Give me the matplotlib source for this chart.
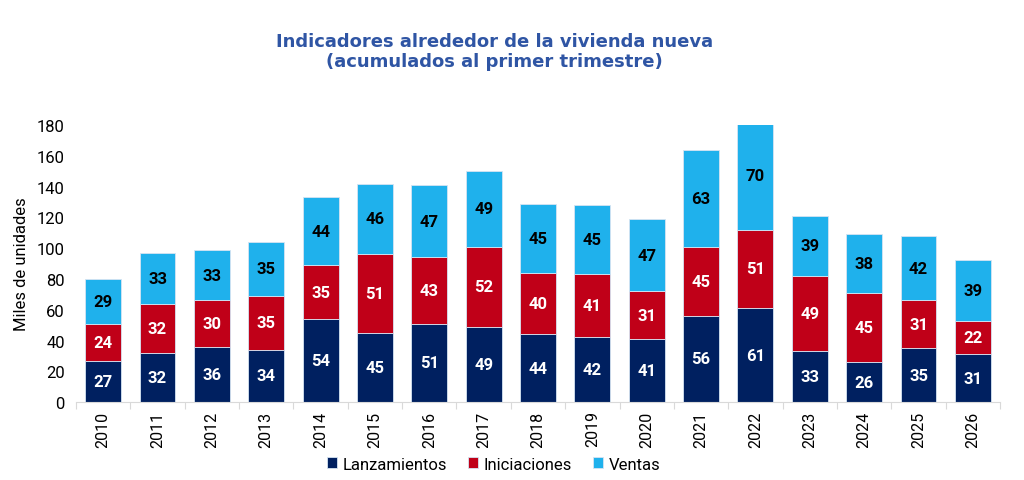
import matplotlib.pyplot as plt
import numpy as np

plt.rcParams["font.family"] = ["Roboto", "DejaVu Sans"]

years = ['2010', '2011', '2012', '2013', '2014', '2015', '2016', '2017', '2018',
         '2019', '2020', '2021', '2022', '2023', '2024', '2025', '2026']
lanzamientos = [27, 32, 36, 34, 54, 45, 51, 49, 44, 42, 41, 56, 61, 33, 26, 35, 31]
iniciaciones = [24, 32, 30, 35, 35, 51, 43, 52, 40, 41, 31, 45, 51, 49, 45, 31, 22]
ventas = [29, 33, 33, 35, 44, 46, 47, 49, 45, 45, 47, 63, 70, 39, 38, 42, 39]

series = [('Lanzamientos', lanzamientos, '#002060', 'white'),
          ('Iniciaciones', iniciaciones, '#C00018', 'white'),
          ('Ventas', ventas, '#1FB1EC', 'black')]

fig = plt.figure(figsize=(10.24, 4.81), dpi=100)
ax = fig.add_axes([0.0742, 0.162, 0.9024, 0.576])

x = np.arange(len(years))
bottom = np.zeros(len(years))
for name, vals, color, txt in series:
    vals = np.array(vals, dtype=float)
    ax.bar(x, vals, 0.66, bottom=bottom, color=color, label=name,
           edgecolor='#D6E4F2', linewidth=0.6)
    for xi, b, v in zip(x, bottom, vals):
        ax.text(xi, b + v / 2, '%d' % v, ha='center', va='center',
                color=txt, fontsize=12, fontweight='bold')
    bottom += vals

ax.set_xlim(-0.5, len(years) - 0.5)
ax.set_ylim(0, 180)
ax.set_yticks(np.arange(0, 181, 20))
ax.set_xticks(x)
ax.set_xticklabels(years, rotation=90, fontsize=11.5)
ax.tick_params(axis='y', length=0, labelsize=12, pad=8)
ax.tick_params(axis='x', length=0, pad=6)
ax.set_xticks(np.arange(-0.5, len(years), 1), minor=True)
ax.tick_params(axis='x', which='minor', length=5, color='#D9D9D9', width=0.8)
for s in ['top', 'right', 'left']:
    ax.spines[s].set_visible(False)
ax.spines['bottom'].set_color('#D9D9D9')
ax.set_ylabel('Miles de unidades', fontsize=12, labelpad=6)

fig.text(0.483, 0.892, 'Indicadores alrededor de la vivienda nueva\n(acumulados al primer trimestre)',
         ha='center', va='center', fontsize=13, fontweight='bold',
         color='#2F55A4', family='DejaVu Sans', linespacing=1.1)

ax.legend(loc='center', bbox_to_anchor=(0.452, -0.224), ncol=3, frameon=False,
          fontsize=12, handlelength=0.6, handleheight=0.6, handletextpad=0.3,
          columnspacing=1.3)

plt.savefig('out.png', dpi=100)
